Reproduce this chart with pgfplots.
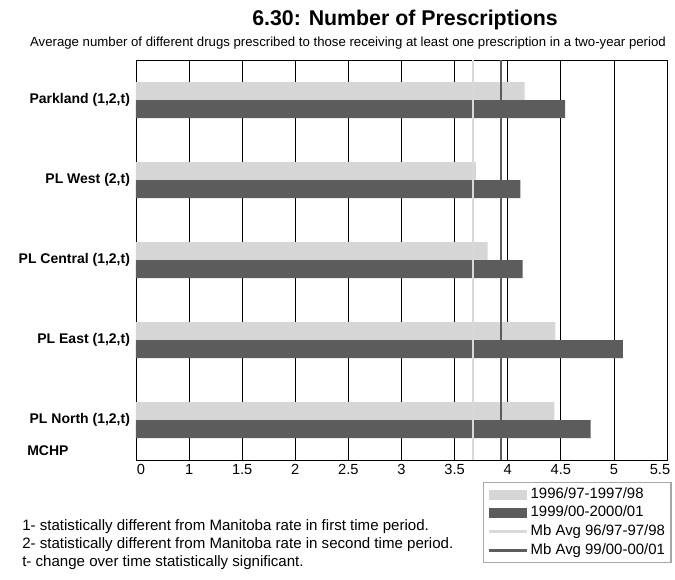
\documentclass[border=0pt]{standalone}
\usepackage{pgfplots}
\pgfplotsset{compat=1.18}
\usepackage{fontspec}
\setmainfont{Liberation Sans}
\definecolor{lightbar}{HTML}{D6D6D6}
\definecolor{darkbar}{HTML}{5C5C5C}
\definecolor{lightline}{HTML}{D9D9D9}
\begin{document}
\begin{tikzpicture}
\path[use as bounding box] (0,0) rectangle (506.25pt,434.25pt);
\begin{axis}[
  at={(102pt,89.25pt)}, anchor=south west,
  scale only axis, width=398.25pt, height=300pt,
  xmin=0.5, xmax=5.5, ymin=-0.5, ymax=4.5,
  xtick={0.5,1,1.5,2,2.5,3,3.5,4,4.5,5,5.5},
  xticklabels={\hspace*{7.5pt}0,1,1.5,2,2.5,3,3.5,4,4.5,5,5.5\hspace*{10.5pt}},
  ytick={0,1,2,3,4},
  yticklabels={{PL North (1,2,t)},{PL East (1,2,t)},{PL Central (1,2,t)},{PL West (2,t)},{Parkland (1,2,t)}},
  major tick length=0pt,
  xmajorgrids, grid style={black, line width=0.5pt},
  axis line style={black, line width=0.6pt},
  xticklabel style={font=\fontsize{11}{13}\selectfont},
  yticklabel style={font=\fontsize{10.5}{12}\selectfont\bfseries, xshift=-1pt},
  legend cell align=left,
  legend style={at={(0.6535,-0.055)}, anchor=north west, draw=gray!70, line width=0.8pt,
    font=\fontsize{11.2}{13}\selectfont,
    nodes={inner sep=1.6pt, text height=8.2pt, text depth=2.6pt},
    /tikz/every even column/.append style={column sep=1pt}},
]
\addplot[xbar, bar width=13.5pt, bar shift=6.75pt, fill=lightbar, draw=none,
  legend image code/.code={\fill[lightbar] (4.5pt,-3.75pt) rectangle (33pt,3.75pt);}]
  coordinates {(4.16,4) (3.70,3) (3.81,2) (4.45,1) (4.44,0)};
\addlegendentry{1996/97-1997/98}
\addplot[xbar, bar width=13.5pt, bar shift=-6.75pt, fill=darkbar, draw=none,
  legend image code/.code={\fill[darkbar] (4.5pt,-3.75pt) rectangle (33pt,3.75pt);}]
  coordinates {(4.54,4) (4.12,3) (4.14,2) (5.085,1) (4.78,0)};
\addlegendentry{1999/00-2000/01}
\addplot[lightline, line width=1.3pt,
  legend image code/.code={\draw[lightline, line width=2.25pt] (4.5pt,0pt)--(33pt,0pt);}]
  coordinates {(3.67,-0.5) (3.67,4.5)};
\addlegendentry{Mb Avg 96/97-97/98}
\addplot[darkbar, line width=1.3pt,
  legend image code/.code={\draw[darkbar, line width=2.25pt] (4.5pt,0pt)--(33pt,0pt);}]
  coordinates {(3.94,-0.5) (3.94,4.5)};
\addlegendentry{Mb Avg 99/00-00/01}
\end{axis}
\node[font=\fontsize{16}{19}\selectfont\bfseries] at (303.75pt,419.25pt) {6.30: Number of Prescriptions};
\node[font=\fontsize{9.9}{12}\selectfont] at (261pt,402pt) {Average number of different drugs prescribed to those receiving at least one prescription in a two-year period};
\node[font=\fontsize{10.5}{12}\selectfont\bfseries, anchor=west, inner sep=0pt] at (20.25pt,96pt) {MCHP};
\node[font=\fontsize{11.3}{13}\selectfont, anchor=west, inner sep=0pt] at (16.5pt,39pt) {1- statistically different from Manitoba rate in first time period.};
\node[font=\fontsize{11.3}{13}\selectfont, anchor=west, inner sep=0pt] at (16.5pt,25.5pt) {2- statistically different from Manitoba rate in second time period.};
\node[font=\fontsize{11.3}{13}\selectfont, anchor=west, inner sep=0pt] at (16.5pt,12pt) {t- change over time statistically significant.};
\end{tikzpicture}
\end{document}
